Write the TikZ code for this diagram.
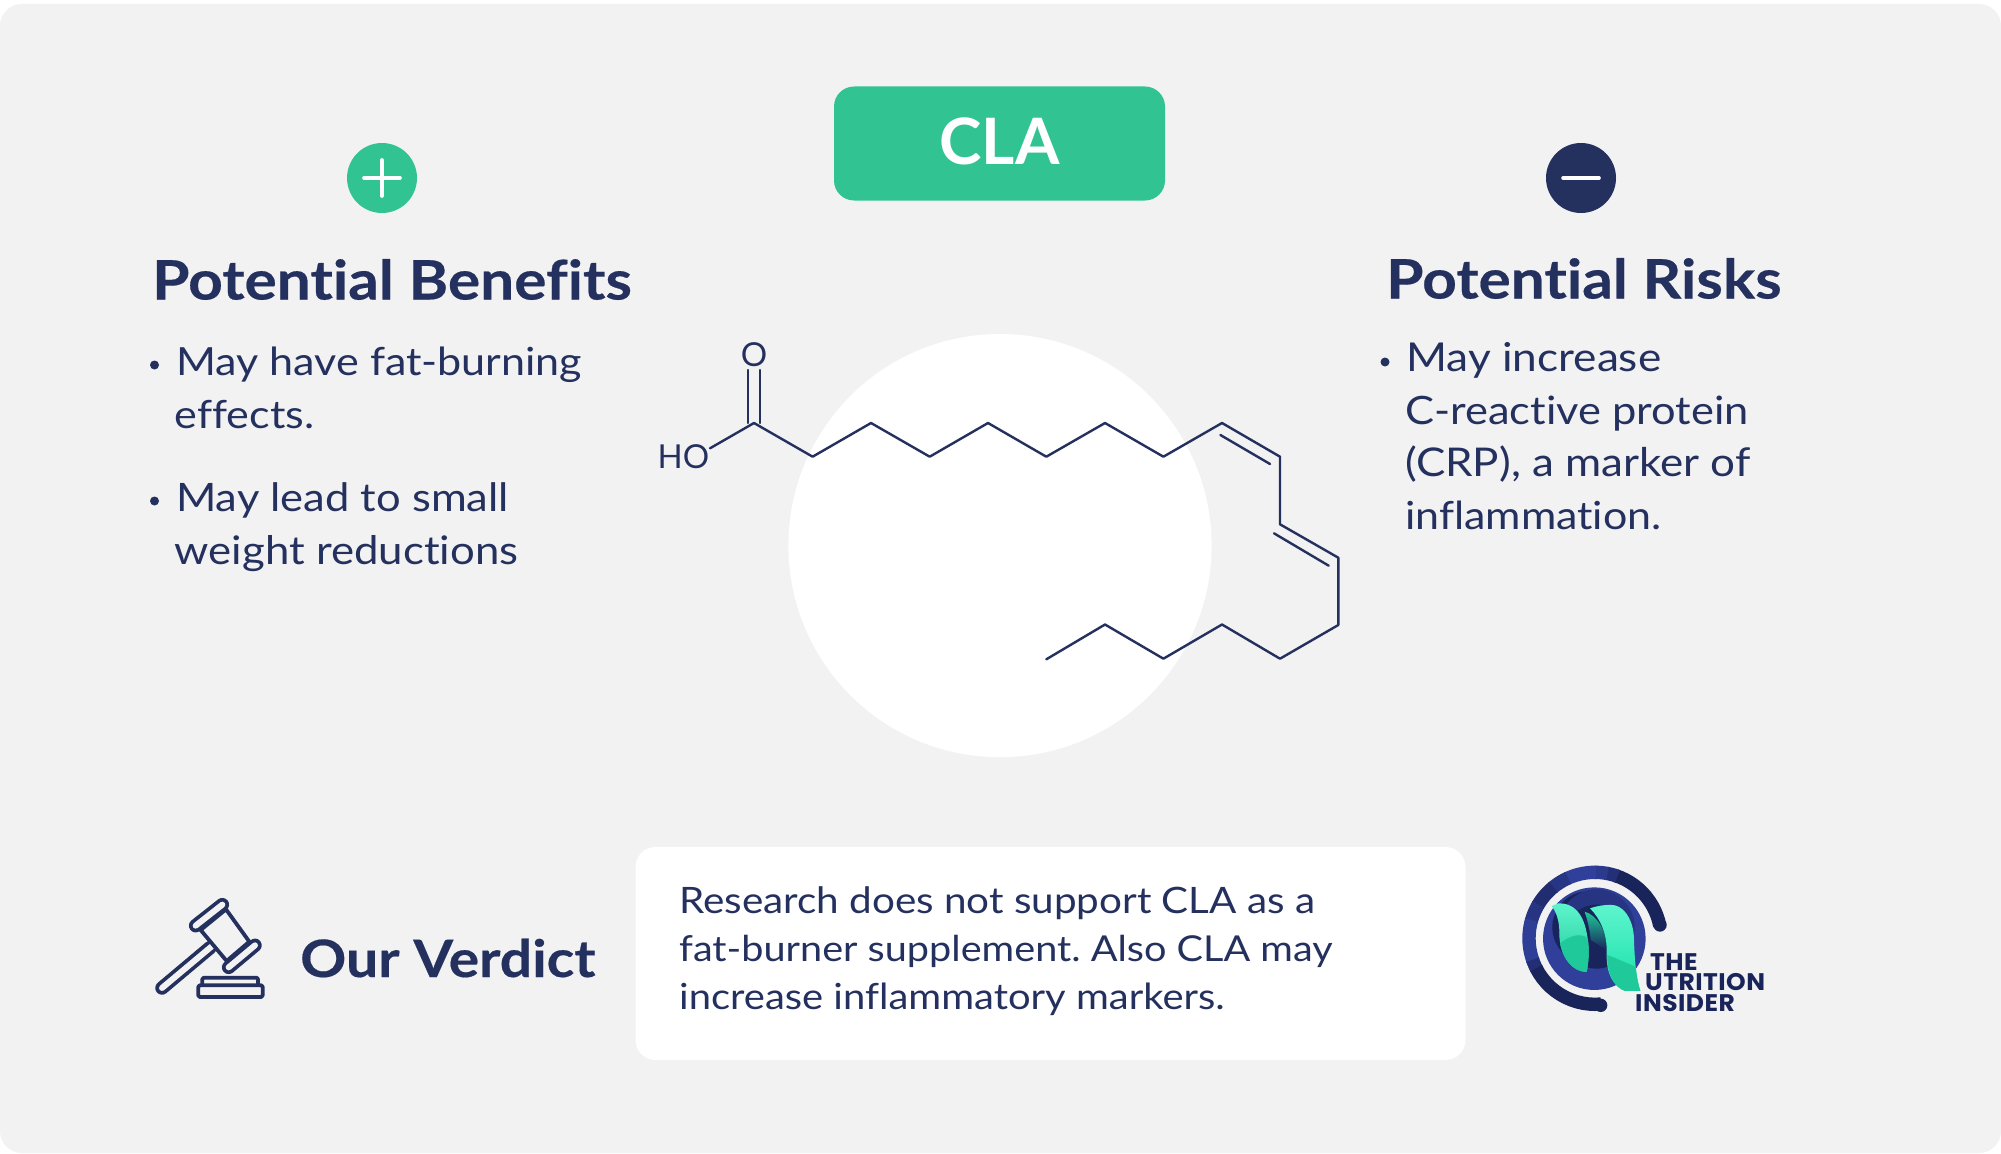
\documentclass[tikz,border=0pt]{standalone}
\usepackage{fontspec}
\setmainfont{Lato}[FakeStretch=1.11,Ligatures=CommonOff,BoldFeatures={FakeBold=0.35}]
\newfontfamily\plainfont{Lato}
\newfontfamily\logofont{Poppins}[BoldFont={Poppins Bold},LetterSpace=2,FakeStretch=1.04]
\frenchspacing
\definecolor{navy}{HTML}{24305E}
\definecolor{mint}{HTML}{31C492}
\definecolor{panel}{HTML}{F2F2F2}
\definecolor{ringdark}{HTML}{19245A}
\definecolor{ringlight}{HTML}{2F3F9A}
\definecolor{leafa}{HTML}{5FF5CE}
\definecolor{leafb}{HTML}{1FC99A}
\definecolor{leafc}{HTML}{17E0A8}
\tikzset{
  sized/.style={font=\frenchspacing\fontsize{#1}{39}\selectfont},
  bodytext/.style={anchor=base west,inner sep=0pt,text=navy,sized=38.8},
  versetext/.style={anchor=base west,inner sep=0pt,text=navy,sized=36.2},
  headtext/.style={anchor=base west,inner sep=0pt,text=navy,font=\fontsize{54.4}{54}\selectfont\bfseries},
  logotext/.style={anchor=base west,inner sep=0pt,text=ringdark,font=\logofont\fontsize{24}{24}\selectfont\bfseries},
  bond/.style={draw=navy,line width=2.4pt,line cap=round,line join=round},
  bulletdot/.style={circle,fill=navy,inner sep=0pt,minimum size=9pt},
  gavelline/.style={draw=navy,line width=3.8pt,line join=round},
}
\begin{document}
\begin{tikzpicture}[x=1pt,y=-1pt]
\useasboundingbox (0,0) rectangle (2001,1153);
\fill[white] (0,0) rectangle (2001,1153);
\fill[panel,rounded corners=22pt] (0,4) rectangle (2001,1153);
% badge
\node (badge) [fill=mint,rounded corners=20pt,minimum width=331pt,minimum height=114pt,inner sep=0pt,anchor=center] at (999.5,143.5) {};
\node (cla) [anchor=base,inner sep=0pt,text=white,font=\plainfont\fontsize{64}{64}\selectfont\bfseries] at (999.5,164) {CLA};
% icons
\node (plusc) [circle,fill=mint,minimum size=70pt,inner sep=0pt] at (382,178) {};
\draw[white,line width=3.6pt,line cap=round] (382,160) -- (382,196) (364,178) -- (400,178);
\node (minusc) [circle,fill=navy,minimum size=70pt,inner sep=0pt] at (1581,178) {};
\draw[white,line width=3.6pt,line cap=round] (1563,178) -- (1599,178);
% headings
\node (hben) [headtext] at (152,299.5) {Potential Benefits};
\node (hrisk) [headtext] at (1386,298.5) {Potential Risks};
% left list
\node (db1) [bulletdot] at (154.5,365) {};
\node (t1) [bodytext] at (176,375) {May have fat-burning};
\node (t2) [bodytext] at (174.5,428) {effects.};
\node (db2) [bulletdot] at (154.5,501) {};
\node (t3) [bodytext,sized=39.2] at (176,511) {May lead to small};
\node (t4) [bodytext,sized=39.4] at (174.5,564) {weight reductions};
% right list
\node (db3) [bulletdot] at (1385,362) {};
\node (r1) [bodytext,sized=39.8] at (1406,371) {May increase};
\node (r2) [bodytext,sized=39.1] at (1405,424) {C-reactive protein};
\node (r3) [bodytext,sized=39.6] at (1405,476.5) {(CRP), a marker of};
\node (r4) [bodytext,sized=38.7] at (1405,529) {inflammation.};
% molecule
\fill[white] (1000,545.6) circle (211.6);
\foreach \n/\x/\y in {a/754/423,b/812.6/456.7,c/871/423,d/929.7/456.7,e/988/423,f/1046.3/456.7,g/1105/423,h/1163.4/456.7,i/1222/423,j/1280/456.7,k/1280/524.3,l/1338.3/557.7,m/1338.3/625,n/1280/658.7,o/1222/624.5,p/1163.4/658.7,q/1105/624.5,r/1046.3/659.3}
  \coordinate (\n) at (\x,\y);
\draw[bond] (a) -- (b) -- (c) -- (d) -- (e) -- (f) -- (g) -- (h) -- (i) -- (j) -- (k) -- (l) -- (m) -- (n) -- (o) -- (p) -- (q) -- (r);
\node (oxy) [anchor=center,inner sep=0pt,text=navy,font=\plainfont\fontsize{33}{33}\selectfont] at (754,355) {O};
\node (ho) [anchor=center,inner sep=0pt,text=navy,font=\plainfont\fontsize{33}{33}\selectfont] at (683.5,457) {HO};
\coordinate (oa) at (748.2,370); \coordinate (ob) at (748.2,423);
\coordinate (oc) at (760.2,370); \coordinate (od) at (760.2,423);
\draw[bond] (oa) -- (ob) (oc) -- (od);
\coordinate (hoe) at (710,448.3);
\draw[bond] (hoe) -- (a);
\coordinate (d1a) at (1220.4,435); \coordinate (d1b) at (1270,464);
\coordinate (d2a) at (1274,533.3); \coordinate (d2b) at (1328.7,565.7);
\draw[bond] (d1a) -- (d1b) (d2a) -- (d2b);
% verdict
\begin{scope}[shift={(130,880)},x=0.3333pt,y=-0.3333pt]
  \draw[navy,line width=13.5pt,line cap=round] (96,324) -- (240,203);
  \draw[panel,line width=6pt,line cap=round] (96,324) -- (250,195);
  \draw[gavelline,fill=panel] (212,150) -- (288,88) -- (358,185) -- (290,243) -- cycle;
  \draw[navy,line width=13.5pt,line cap=round] (197,137) -- (277,74);
  \draw[panel,line width=6pt,line cap=round] (197,137) -- (277,74);
  \draw[navy,line width=13.5pt,line cap=round] (296,262) -- (375,196);
  \draw[panel,line width=6pt,line cap=round] (296,262) -- (375,196);
  \draw[gavelline,rounded corners=1.5pt] (217,313) -- (217,293) -- (384,293) -- (384,313);
  \draw[gavelline,rounded corners=1.5pt] (205,316) rectangle (398,351);
\end{scope}
\node (verdict) [anchor=base west,inner sep=0pt,text=navy,font=\fontsize{51.5}{52}\selectfont\bfseries] at (300,977) {Our Verdict};
\node (vbox) [fill=white,rounded corners=20pt,minimum width=830pt,minimum height=213pt,inner sep=0pt] at (1050.5,953.5) {};
\node (v1) [versetext,sized=36.4] at (679,913) {Research does not support CLA as a};
\node (v2) [versetext,sized=35.7] at (679,961) {fat-burner supplement. Also CLA may};
\node (v3) [versetext,sized=36.0] at (679,1009) {increase inflammatory markers.};
% logo
\begin{scope}[shift={(1480,840)},x=0.3333pt,y=-0.3333pt]
  \fill[ringdark] (540,255) circle (6.7pt);
  \fill[ringdark] (362,496) circle (6.7pt);
  \foreach \a/\b/\m in {11/72/100,70/80/55,79/90/20,89/115/0,114/130/35,129/150/65,149/165/40,164/200/5,199/208/60,207/275/100}
    \draw[ringdark!\m!ringlight,line width=13.4pt] plot[domain=\a:\b,samples=14] ({345+198*cos(\x)},{295-198*sin(\x)});
  \fill[ringlight] (343,296) circle (51.3pt);
  \fill[ringdark] (325,262) circle (36pt);
  \fill[ringlight!60!ringdark] (350,262) circle (38pt);
  \fill[ringdark] (350,290) circle (32pt);
  % arch joining the leaves
  \shade[top color=leafb,bottom color=ringdark] (314,215) .. controls (350,225) and (380,270) .. (380,330) -- (332,300) .. controls (330,270) and (322,240) .. (314,215) -- cycle;
  % left leaf
  \shade[top color=leafa,bottom color=leafb] (215,198) -- (235,190) .. controls (280,188) and (312,220) .. (322,290) .. controls (330,330) and (325,370) .. (320,396) .. controls (270,395) and (235,340) .. (238,270) .. controls (237,240) and (228,215) .. (215,198) -- cycle;
  \fill[leafb] (240,310) .. controls (265,290) and (300,275) .. (323,295) .. controls (329,335) and (325,370) .. (320,396) .. controls (280,395) and (250,360) .. (240,310) -- cycle;
  % right leaf
  \shade[top color=leafa,bottom color=leafc] (330,205) .. controls (350,198) and (380,192) .. (405,196) .. controls (440,205) and (462,250) .. (462,300) .. controls (464,360) and (468,410) .. (481,453) -- (435,453) .. controls (400,440) and (378,400) .. (380,340) .. controls (382,280) and (360,235) .. (330,205) -- cycle;
  \fill[leafb] (382,345) .. controls (410,355) and (440,370) .. (467,380) .. controls (470,410) and (475,435) .. (481,453) -- (435,453) .. controls (400,440) and (382,400) .. (382,345) -- cycle;
\end{scope}
\node (lg1) [logotext] at (1650,970) {THE};
\node (lg2) [logotext] at (1645,990.5) {UTRITION};
\node (lg3) [logotext] at (1635,1011) {INSIDER};
\end{tikzpicture}
\end{document}
